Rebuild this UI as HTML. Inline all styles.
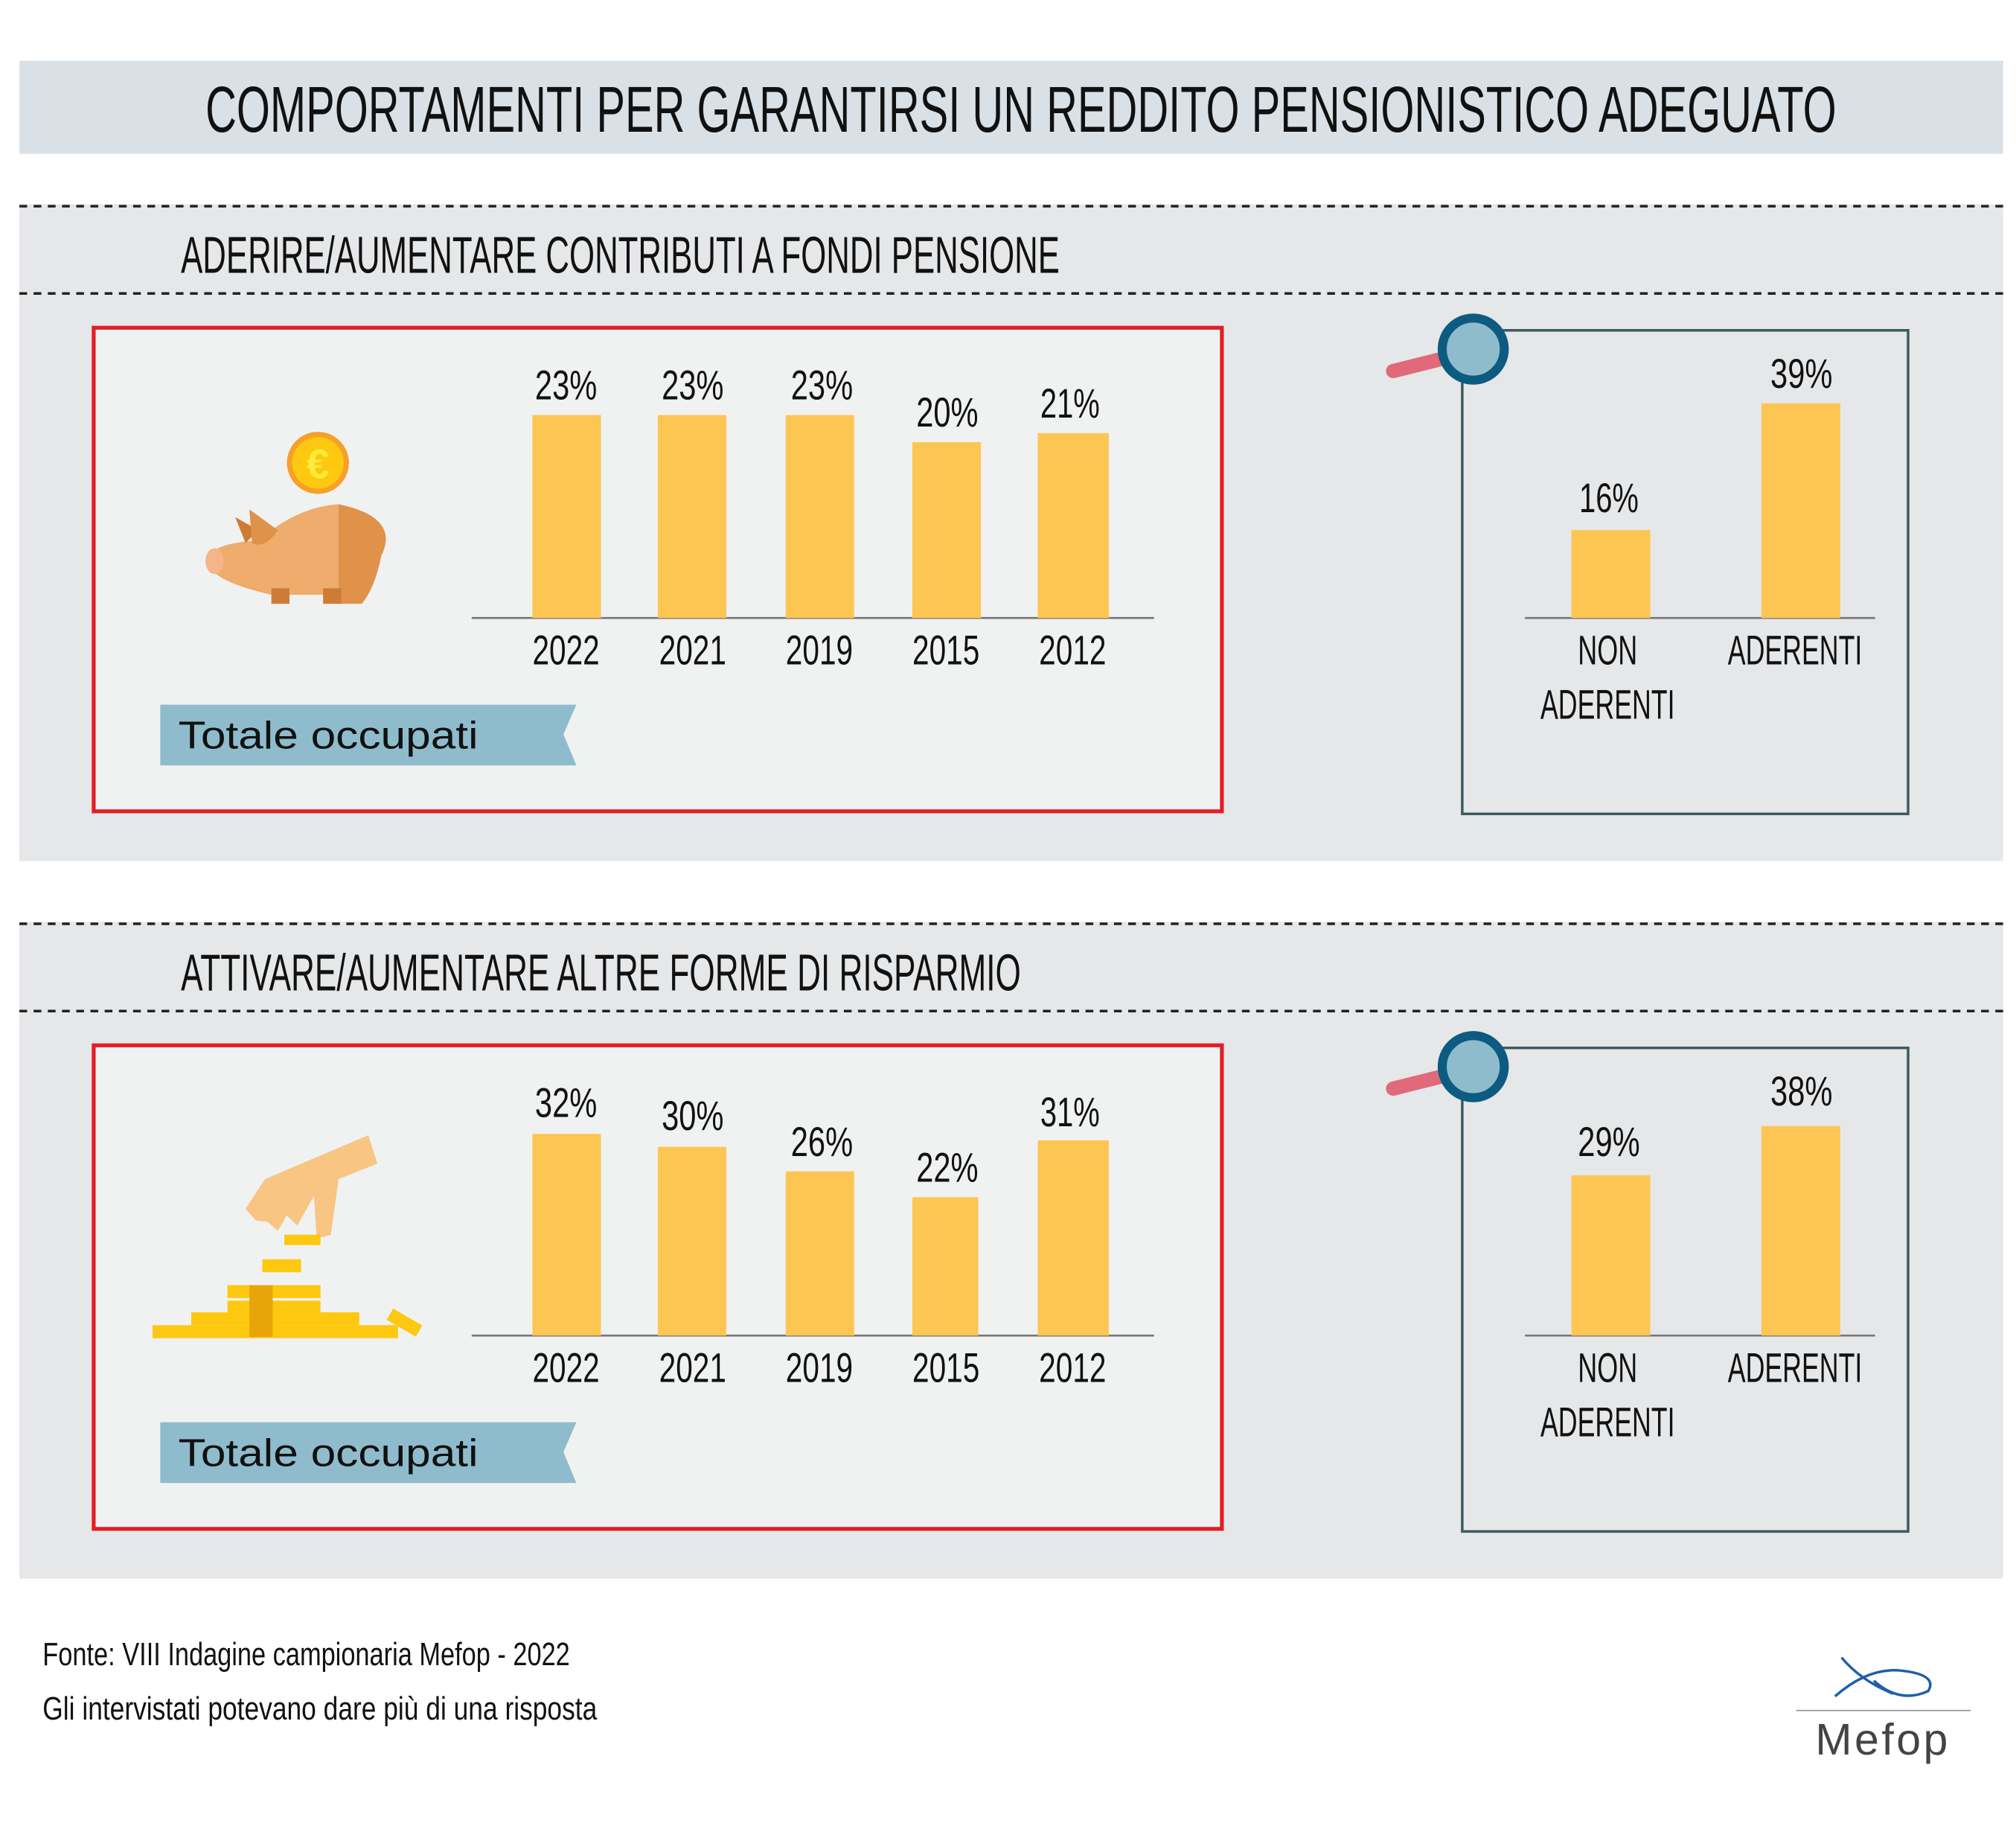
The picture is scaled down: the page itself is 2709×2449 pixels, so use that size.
<!DOCTYPE html>
<html><head><meta charset="utf-8"><style>html,body{margin:0;padding:0;background:#fff}svg{display:block}</style></head>
<body>
<svg width="2709" height="2449" viewBox="0 0 1560 1410" preserveAspectRatio="none" xmlns="http://www.w3.org/2000/svg" font-family="'Liberation Sans Narrow','Liberation Sans',sans-serif">
<rect width="1560" height="1410" fill="#fff"/>
<rect x="15" y="47" width="1535" height="72" fill="#d9e1e6"/>
<text x="790" y="102" font-size="50" text-anchor="middle" fill="#111" textLength="1262" lengthAdjust="spacingAndGlyphs">COMPORTAMENTI PER GARANTIRSI UN REDDITO PENSIONISTICO ADEGUATO</text>

<g id="sec">
<rect x="15" y="158" width="1535" height="508" fill="#e5e7e9"/>
<line x1="15" y1="159.5" x2="1550" y2="159.5" stroke="#222" stroke-width="2" stroke-dasharray="6,5"/>
<line x1="15" y1="227" x2="1550" y2="227" stroke="#222" stroke-width="2" stroke-dasharray="6,5"/>
<rect x="72.5" y="253.5" width="873" height="374" fill="#f0f2f2" stroke="#e31e24" stroke-width="3"/>
<line x1="365" y1="478" x2="893" y2="478" stroke="#777" stroke-width="1.5"/>
<g font-size="32" fill="#111" text-anchor="middle">
<text x="438" y="514" textLength="52" lengthAdjust="spacingAndGlyphs">2022</text><text x="536" y="514" textLength="52" lengthAdjust="spacingAndGlyphs">2021</text><text x="634" y="514" textLength="52" lengthAdjust="spacingAndGlyphs">2019</text><text x="732" y="514" textLength="52" lengthAdjust="spacingAndGlyphs">2015</text><text x="830" y="514" textLength="52" lengthAdjust="spacingAndGlyphs">2012</text>
</g>
<polygon points="124,545 446,545 436,568 446,592 124,592" fill="#8fbccc"/>
<text x="138" y="579" font-family="'Liberation Sans','DejaVu Sans',sans-serif" font-size="30" fill="#111" textLength="232" lengthAdjust="spacingAndGlyphs">Totale occupati</text>
<rect x="1131.5" y="255.5" width="345" height="374" fill="none" stroke="#3d5a5f" stroke-width="2"/>
<line x1="1180" y1="478" x2="1451" y2="478" stroke="#777" stroke-width="1.5"/>
<g font-size="32" fill="#111" text-anchor="middle">
<text x="1244" y="514" textLength="46" lengthAdjust="spacingAndGlyphs">NON</text><text x="1244" y="556" textLength="104" lengthAdjust="spacingAndGlyphs">ADERENTI</text><text x="1389" y="514" textLength="104" lengthAdjust="spacingAndGlyphs">ADERENTI</text>
</g>
<line x1="1078" y1="287" x2="1118" y2="277" stroke="#e0697a" stroke-width="11" stroke-linecap="round"/>
<circle cx="1140" cy="270" r="24" fill="#8fbccc" stroke="#0d5b80" stroke-width="7"/>
</g>
<use href="#sec" y="555"/>

<text x="140" y="211" font-size="40" fill="#111" textLength="680" lengthAdjust="spacingAndGlyphs">ADERIRE/AUMENTARE CONTRIBUTI A FONDI PENSIONE</text>
<text x="140" y="766" font-size="40" fill="#111" textLength="650" lengthAdjust="spacingAndGlyphs">ATTIVARE/AUMENTARE ALTRE FORME DI RISPARMIO</text>

<g fill="#fdc652">
<rect x="412" y="321" width="53" height="157"/><rect x="509" y="321" width="53" height="157"/><rect x="608" y="321" width="53" height="157"/><rect x="706" y="342" width="53" height="136"/><rect x="803" y="335" width="55" height="143"/>
<rect x="1216" y="410" width="61" height="68"/><rect x="1363" y="312" width="61" height="166"/>
<rect x="412" y="877" width="53" height="156"/><rect x="509" y="887" width="53" height="146"/><rect x="608" y="906" width="53" height="127"/><rect x="706" y="926" width="51" height="107"/><rect x="803" y="882" width="55" height="151"/>
<rect x="1216" y="909" width="61" height="124"/><rect x="1363" y="871" width="61" height="162"/>
</g>
<g font-size="32" fill="#111" text-anchor="middle">
<text x="438" y="309" textLength="48" lengthAdjust="spacingAndGlyphs">23%</text><text x="536" y="309" textLength="48" lengthAdjust="spacingAndGlyphs">23%</text><text x="636" y="309" textLength="48" lengthAdjust="spacingAndGlyphs">23%</text><text x="733" y="330" textLength="48" lengthAdjust="spacingAndGlyphs">20%</text><text x="828" y="323" textLength="46" lengthAdjust="spacingAndGlyphs">21%</text>
<text x="1245" y="396" textLength="46" lengthAdjust="spacingAndGlyphs">16%</text><text x="1394" y="300" textLength="48" lengthAdjust="spacingAndGlyphs">39%</text>
<text x="438" y="864" textLength="48" lengthAdjust="spacingAndGlyphs">32%</text><text x="536" y="874" textLength="48" lengthAdjust="spacingAndGlyphs">30%</text><text x="636" y="894" textLength="48" lengthAdjust="spacingAndGlyphs">26%</text><text x="733" y="914" textLength="48" lengthAdjust="spacingAndGlyphs">22%</text><text x="828" y="871" textLength="46" lengthAdjust="spacingAndGlyphs">31%</text>
<text x="1245" y="894" textLength="48" lengthAdjust="spacingAndGlyphs">29%</text><text x="1394" y="855" textLength="48" lengthAdjust="spacingAndGlyphs">38%</text>
</g>

<!-- piggy -->
<circle cx="246" cy="358" r="24" fill="#f6a02a"/><circle cx="246" cy="358" r="20" fill="#fdc80f"/>
<text x="246" y="370" font-family="'Liberation Sans',sans-serif" font-size="32" font-weight="bold" fill="#fdeb3b" text-anchor="middle">€</text>
<path d="M160,432 Q165,420 200,418 Q230,392 262,390 L262,460 L210,460 Q175,452 165,442 Z" fill="#efac6c"/>
<path d="M262,390 Q310,400 295,430 Q290,455 280,467 L262,467 Z" fill="#e0914a"/>
<path d="M182,400 L190,420 L200,410 Z" fill="#ce7b36"/><path d="M193,394 L215,410 Q205,425 195,420 Z" fill="#e0914a"/>
<rect x="210" y="455" width="14" height="12" fill="#ce7b36"/><rect x="250" y="455" width="14" height="12" fill="#ce7b36"/>
<ellipse cx="166" cy="434" rx="7" ry="10" fill="#f4b688"/>

<!-- hand + coins -->
<path d="M205,912 L285,878 L292,900 L262,912 L256,955 L245,958 L243,925 L230,948 L222,940 L215,952 L207,945 L198,944 L190,935 Z" fill="#f9c583"/>
<g fill="#fdc80f">
<rect x="220" y="955" width="28" height="8"/><rect x="203" y="974" width="30" height="10"/><rect x="176" y="994" width="72" height="10"/><rect x="176" y="1006" width="72" height="10"/>
<rect x="148" y="1015" width="130" height="10"/><rect x="118" y="1025" width="190" height="10"/>
<rect x="300" y="1018" width="26" height="10" transform="rotate(30 313 1023)"/>
</g>
<rect x="193" y="994" width="18" height="40" fill="#e8a50a"/>

<text x="33" y="1288" font-size="25" fill="#111" textLength="408" lengthAdjust="spacingAndGlyphs">Fonte: VIII Indagine campionaria Mefop - 2022</text>
<text x="33" y="1330" font-size="25" fill="#111" textLength="429" lengthAdjust="spacingAndGlyphs">Gli intervistati potevano dare più di una risposta</text>

<path d="M1425,1282 Q1440,1300 1465,1310 M1420,1312 Q1445,1290 1470,1292 Q1500,1295 1492,1308 Q1470,1318 1450,1300" fill="none" stroke="#1f5fa8" stroke-width="2"/>
<line x1="1390" y1="1323" x2="1525" y2="1323" stroke="#999" stroke-width="1"/>
<text x="1457" y="1357" font-family="'Liberation Sans',sans-serif" font-size="34" fill="#444" text-anchor="middle" letter-spacing="2">Mefop</text>
</svg>
</body></html>
